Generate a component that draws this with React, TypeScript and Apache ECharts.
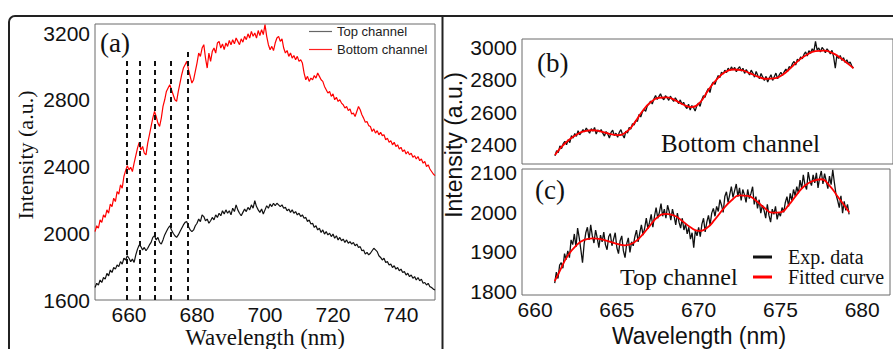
import React, { useEffect, useRef } from "react";
import * as echarts from "echarts";

const SANS = 'Arial, "Liberation Sans", sans-serif';
const SERIF = '"Times New Roman", "Liberation Serif", serif';

// Panel (a): full spectra, 650–750 nm, step 0.5 nm
const A_START = 650;
const A_STEP = 0.5;
const A_BOTTOM = [
  2010, 2045, 2030, 2080, 2065, 2110, 2095, 2140, 2120, 2175,
  2160, 2210, 2190, 2250, 2235, 2290, 2270, 2340, 2375, 2405,
  2380, 2395, 2370, 2420, 2465, 2510, 2545, 2500, 2520, 2480,
  2470, 2540, 2590, 2640, 2690, 2730, 2700, 2660, 2640, 2690,
  2760, 2800, 2850, 2870, 2890, 2860, 2830, 2800, 2790, 2850,
  2900, 2950, 2990, 3010, 3030, 2980, 2940, 2900, 2920, 2970,
  3020, 3080, 3060, 3110, 3130, 3050, 2990, 3080, 3030, 3090,
  3110, 3080, 3140, 3150, 3110, 3135, 3100, 3140, 3120, 3155,
  3130, 3160, 3135, 3170, 3150, 3130, 3165, 3145, 3180, 3160,
  3195, 3170, 3210, 3180, 3200, 3170, 3215, 3185, 3220, 3190,
  3250, 3180, 3130, 3100, 3120, 3095, 3140, 3170, 3180, 3150,
  3165, 3110, 3080, 3095, 3060, 3080, 3050, 3065, 3040, 3060,
  3030, 3040, 3020, 2960, 2920, 2940, 2910, 2930, 2920, 2945,
  2930, 2960, 2940, 2920, 2910, 2880, 2860, 2840, 2850, 2820,
  2835, 2800, 2815, 2790, 2800, 2780, 2770, 2750, 2760, 2735,
  2745, 2715, 2720, 2700, 2730, 2760, 2740, 2710, 2690, 2665,
  2670, 2645, 2640, 2610, 2625, 2600, 2615, 2590, 2605, 2585,
  2590, 2560, 2570, 2545, 2555, 2530, 2545, 2520, 2530, 2505,
  2515, 2490, 2500, 2475, 2490, 2470, 2480, 2455, 2465, 2445,
  2460, 2435, 2445, 2420, 2430, 2400, 2410, 2385, 2370, 2355,
  2345,
];
const A_TOP = [
  1675, 1700, 1690, 1720, 1705, 1735, 1725, 1760, 1745, 1780,
  1765, 1795, 1785, 1810, 1800, 1830, 1815, 1850, 1840, 1865,
  1850, 1830, 1845, 1825, 1870, 1905, 1930, 1920, 1900, 1915,
  1895, 1910, 1930, 1945, 1975, 1985, 1960, 1975, 1945, 1935,
  1960, 1990, 2010, 2030, 2045, 2020, 2000, 1985, 1975, 1990,
  2010, 2030, 2050, 2065, 2070, 2040, 2020, 2010, 2020, 2045,
  2060, 2085, 2070, 2110, 2100, 2075, 2085, 2060, 2075, 2095,
  2080, 2110, 2095, 2120, 2105, 2135, 2115, 2140, 2120, 2135,
  2110, 2150, 2130, 2170, 2140, 2120, 2105, 2125, 2145, 2130,
  2155, 2140, 2170, 2150, 2195, 2160, 2140, 2125, 2145, 2115,
  2140, 2165, 2150, 2175, 2160, 2180, 2165, 2180, 2170, 2160,
  2170, 2150, 2155, 2135, 2145, 2125, 2140, 2120, 2130, 2110,
  2120, 2100, 2110, 2090, 2095, 2070, 2080, 2055, 2060, 2035,
  2045, 2020, 2030, 2005, 2020, 1995, 2010, 1990, 2000, 1980,
  1995, 1970, 1985, 1960, 1975, 1955, 1965, 1945, 1960, 1940,
  1950, 1935, 1945, 1925, 1935, 1915, 1920, 1895, 1900, 1875,
  1885, 1870, 1880, 1895, 1910, 1900, 1890, 1865, 1855, 1840,
  1850, 1825, 1830, 1810, 1815, 1795, 1805, 1785, 1795, 1775,
  1785, 1765, 1770, 1750, 1760, 1740, 1750, 1730, 1740, 1720,
  1735, 1715, 1725, 1700, 1705, 1690, 1700, 1680, 1675, 1665,
  1660,
];
// dashed markers in panel (a): wavelength and top of the dashed line
const A_MARK_WL = [659.3, 663.1, 667.5, 672.2, 677.2];
const A_MARK_TOP = [3040, 3040, 3040, 3040, 3098];

// Panels (b) and (c): zoomed 661.2–679.x nm, step 0.1 nm
const Z_START = 661.2;
const Z_STEP = 0.1;
const B_EXP = [
  2330, 2362, 2350, 2392, 2375, 2405, 2420, 2398,
  2430, 2412, 2455, 2440, 2468, 2450, 2485, 2460, 2475, 2492,
  2478, 2502, 2485, 2470, 2498, 2482, 2505, 2465, 2490, 2478,
  2492, 2470, 2452, 2480, 2465, 2440, 2475, 2488, 2455, 2470,
  2445, 2475, 2492, 2460, 2440, 2482, 2470, 2505, 2495, 2528,
  2520, 2550, 2542, 2585, 2570, 2600, 2618, 2605, 2638, 2650,
  2668, 2650, 2680, 2702, 2678, 2695, 2712, 2688, 2676, 2700,
  2690, 2672, 2698, 2680, 2665, 2688, 2670, 2652, 2675, 2648,
  2660, 2635, 2622, 2648, 2612, 2640, 2628, 2606, 2638, 2655,
  2635, 2675, 2700, 2690, 2725, 2745, 2720, 2768, 2785, 2770,
  2800, 2825, 2812, 2845, 2835, 2858, 2842, 2870, 2855, 2878,
  2860, 2875, 2848, 2868, 2880, 2852, 2870, 2838, 2862, 2845,
  2828, 2858, 2840, 2815, 2850, 2825, 2805, 2838, 2815, 2795,
  2820, 2785, 2810, 2830, 2795, 2818, 2840, 2805, 2828, 2845,
  2825, 2848, 2865, 2850, 2880, 2872, 2898, 2912, 2890, 2925,
  2915, 2940, 2928, 2955, 2970, 2945, 2978, 2962, 2990, 2972,
  3035, 2982, 2995, 2970, 2998, 2985, 2965, 2990, 2975, 2958,
  2980, 2940, 2870, 2952, 2930, 2948, 2918, 2935, 2905, 2922,
  2898, 2908, 2885, 2870,
];
const C_EXP = [
  1820, 1848, 1832, 1866, 1872, 1858, 1895, 1880,
  1902, 1885, 1930, 1918, 1945, 1912, 1960, 1935, 1905, 1872,
  1920, 1948, 1962, 1930, 1968, 1940, 1922, 1955, 1935, 1910,
  1942, 1925, 1950, 1918, 1905, 1938, 1946, 1915, 1932, 1948,
  1910, 1895, 1928, 1940, 1902, 1885, 1920, 1935, 1898, 1925,
  1915, 1938, 1955, 1925, 1948, 1968, 1942, 1960, 1985, 1958,
  1975, 1995, 1962, 1990, 2012, 1985, 2000, 2022, 1990, 2008,
  1985, 2018, 2002, 1980, 2008, 1990, 1968, 1998, 1975, 1960,
  1985, 1955, 1970, 1945, 1962, 1932, 1948, 1910, 1955, 1940,
  1962, 1938, 1970, 1985, 1950, 1975, 1992, 1968, 1998, 2010,
  1990, 2015, 2002, 2032, 2018, 2000, 2040, 2052, 2025, 2045,
  2065, 2038, 2055, 2072, 2040, 2062, 2030, 2058, 2045, 2025,
  2058, 2035, 2048, 2065, 2020, 2040, 2010, 2032, 1998, 2018,
  2005, 1985, 2020, 1992, 1975, 2008, 1995, 2015, 1982, 2000,
  1990, 2012, 2000, 2025, 2040, 2015, 2048, 2030, 2058, 2042,
  2065, 2048, 2082, 2060, 2095, 2070, 2058, 2102, 2080, 2068,
  2095, 2075, 2100, 2062, 2088, 2105, 2072, 2098, 2080, 2060,
  2092, 2070, 2108, 2075, 2045, 2030, 2012, 2042, 1998, 2028,
  2005, 2020, 1995,
];
// fitted curves, read at 0.5 nm
const B_FIT_WL = [
  661.2, 661.5, 662, 662.5, 663, 663.5, 664, 664.5, 665, 665.5, 666, 666.5,
  667, 667.5, 668, 668.5, 669, 669.5, 670, 670.5, 671, 671.5, 672, 672.5,
  673, 673.5, 674, 674.5, 675, 675.5, 676, 676.5, 677, 677.5, 678, 678.5,
  679, 679.3,
];
const B_FIT = [
  2335, 2375, 2425, 2460, 2482, 2488, 2480, 2466, 2458, 2475, 2530, 2605,
  2660, 2688, 2690, 2672, 2645, 2630, 2660, 2735, 2800, 2845, 2862, 2858,
  2840, 2818, 2805, 2808, 2830, 2872, 2920, 2955, 2975, 2978, 2965, 2935,
  2895, 2870,
];
const C_FIT_WL = [
  661.2, 661.5, 662, 662.5, 663, 663.5, 664, 664.5, 665, 665.5, 666, 666.5,
  667, 667.5, 668, 668.5, 669, 669.5, 670, 670.5, 671, 671.5, 672, 672.5,
  673, 673.5, 674, 674.5, 675, 675.5, 676, 676.5, 677, 677.5, 678, 678.5,
  679, 679.2,
];
const C_FIT = [
  1825, 1850, 1890, 1915, 1930, 1934, 1932, 1926, 1920, 1916, 1922, 1940,
  1965, 1988, 1996, 1992, 1978, 1962, 1953, 1960, 1982, 2008, 2030, 2043,
  2042, 2030, 2012, 1999, 2000, 2018, 2045, 2068, 2080, 2084, 2068, 2040,
  2012, 2000,
];

const A_X_TICKS = [660, 680, 700, 720, 740];
const A_Y_TICKS = [1600, 2000, 2400, 2800, 3200];
const Z_X_TICKS = [660, 665, 670, 675, 680];
const B_Y_TICKS = [2400, 2600, 2800, 3000];
const C_Y_TICKS = [1800, 1900, 2000, 2100];

const grid = (start: number, step: number, vals: number[]) =>
  vals.map((v, i) => [+(start + i * step).toFixed(2), v]);
const pair = (xs: number[], ys: number[]) => xs.map((x, i) => [x, ys[i]]);
const onlyTicks = (ticks: number[]) => (v: number) =>
  ticks.some((t) => Math.abs(t - v) < 1e-6) ? String(Math.round(v)) : "";

export default function App() {
  const ref = useRef<HTMLDivElement>(null);
  useEffect(() => {
    if (!ref.current) return;
    const chart = echarts.init(ref.current, null, { renderer: "svg" });
    const tickLabel = { fontFamily: SANS, fontSize: 21, color: "#111" };
    const boxGrid = { show: true, borderColor: "#6a6a6a", borderWidth: 1, backgroundColor: "transparent", containLabel: false };
    const hidden = { axisLine: { show: false }, axisTick: { show: false }, splitLine: { show: false } };
    const option: any = {
      animation: false,
      backgroundColor: "#ffffff",
      grid: [
        { ...boxGrid, left: 95, top: 24, width: 340, height: 276 },
        { ...boxGrid, left: 522, top: 39, width: 380, height: 125 },
        { ...boxGrid, left: 522, top: 169, width: 380, height: 126 },
      ],
      xAxis: [
        {
          type: "value", gridIndex: 0, min: 650, max: 750, interval: 10, ...hidden,
          axisLabel: { ...tickLabel, margin: 4, formatter: onlyTicks(A_X_TICKS) },
        },
        {
          type: "value", gridIndex: 1, min: 659.2, max: 681.7, interval: 0.2, ...hidden,
          axisLabel: { show: false },
        },
        {
          type: "value", gridIndex: 2, min: 659.2, max: 681.7, interval: 0.2, ...hidden,
          axisLabel: { ...tickLabel, margin: 4, formatter: onlyTicks(Z_X_TICKS) },
        },
      ],
      yAxis: [
        {
          type: "value", gridIndex: 0, min: 1600, max: 3254, interval: 400, ...hidden,
          axisLabel: { ...tickLabel, margin: 5, formatter: onlyTicks(A_Y_TICKS) },
        },
        {
          type: "value", gridIndex: 1, min: 2280, max: 3050, interval: 10, ...hidden,
          axisLabel: { ...tickLabel, margin: 5, formatter: onlyTicks(B_Y_TICKS) },
        },
        {
          type: "value", gridIndex: 2, min: 1790, max: 2110, interval: 10, ...hidden,
          axisLabel: { ...tickLabel, margin: 5, formatter: onlyTicks(C_Y_TICKS) },
        },
      ],
      legend: [
        {
          data: [
            { name: "Top channel", itemStyle: { color: "#666" } },
            { name: "Bottom channel", itemStyle: { color: "#ff2020" } },
          ],
          orient: "vertical", icon: "rect",
          left: 309, top: 25, itemWidth: 23, itemHeight: 1.2, itemGap: 5, padding: 0,
          textStyle: { fontFamily: SANS, fontSize: 13, color: "#222" },
        },
        {
          data: ["Exp. data", "Fitted curve"], orient: "vertical", icon: "rect",
          left: 753, top: 247, itemWidth: 19, itemHeight: 3, itemGap: 0, padding: 0,
          textStyle: { fontFamily: SERIF, fontSize: 20, color: "#111", padding: [0, 0, 0, 11] },
        },
      ],
      series: [
        {
          name: "Top channel", type: "line", xAxisIndex: 0, yAxisIndex: 0,
          data: grid(A_START, A_STEP, A_TOP), showSymbol: false, symbol: "none",
          lineStyle: { color: "#111", width: 1.2 }, itemStyle: { color: "#111" },
        },
        {
          name: "Bottom channel", type: "line", xAxisIndex: 0, yAxisIndex: 0,
          data: grid(A_START, A_STEP, A_BOTTOM), showSymbol: false, symbol: "none",
          lineStyle: { color: "#ff0000", width: 1.2 }, itemStyle: { color: "#ff0000" },
          markLine: {
            silent: true, symbol: "none", label: { show: false },
            lineStyle: { color: "#111", width: 2, type: [5, 4] },
            data: A_MARK_WL.map((w, i) => [
              { coord: [w, 1600] },
              { coord: [w, A_MARK_TOP[i]] },
            ]),
          },
        },
        {
          name: "Exp. data", type: "line", xAxisIndex: 1, yAxisIndex: 1,
          data: grid(Z_START, Z_STEP, B_EXP), showSymbol: false, symbol: "none",
          lineStyle: { color: "#111", width: 1.3 }, itemStyle: { color: "#111" },
        },
        {
          name: "Fitted curve", type: "line", xAxisIndex: 1, yAxisIndex: 1, smooth: true,
          data: pair(B_FIT_WL, B_FIT), showSymbol: false, symbol: "none",
          lineStyle: { color: "#ff0000", width: 1.8 }, itemStyle: { color: "#ff0000" },
        },
        {
          name: "Exp. data", type: "line", xAxisIndex: 2, yAxisIndex: 2,
          data: grid(Z_START, Z_STEP, C_EXP), showSymbol: false, symbol: "none",
          lineStyle: { color: "#111", width: 1.3 }, itemStyle: { color: "#111" },
        },
        {
          name: "Fitted curve", type: "line", xAxisIndex: 2, yAxisIndex: 2, smooth: true,
          data: pair(C_FIT_WL, C_FIT), showSymbol: false, symbol: "none",
          lineStyle: { color: "#ff0000", width: 1.8 }, itemStyle: { color: "#ff0000" },
        },
      ],
      graphic: [
        {
          type: "rect", silent: true, z: 100,
          shape: { x: 9, y: 16, width: 950, height: 400, r: 6 },
          style: { fill: "none", stroke: "#222", lineWidth: 2 },
        },
        {
          type: "line", silent: true, z: 100,
          shape: { x1: 442.5, y1: 16, x2: 442.5, y2: 349 },
          style: { stroke: "#222", lineWidth: 2 },
        },
        { type: "text", x: 100, y: 43, style: { text: "(a)", font: `27px ${SERIF}`, fill: "#111", verticalAlign: "middle" } },
        { type: "text", x: 537, y: 63, style: { text: "(b)", font: `27px ${SERIF}`, fill: "#111", verticalAlign: "middle" } },
        { type: "text", x: 535, y: 190, style: { text: "(c)", font: `27px ${SERIF}`, fill: "#111", verticalAlign: "middle" } },
        { type: "text", x: 661, y: 143, style: { text: "Bottom channel", font: `25px ${SERIF}`, fill: "#111", verticalAlign: "middle" } },
        { type: "text", x: 620, y: 277, style: { text: "Top channel", font: `24px ${SERIF}`, fill: "#111", verticalAlign: "middle" } },
        {
          type: "text", x: 25, y: 155, rotation: Math.PI / 2,
          style: { text: "Intensity (a.u.)", font: `22px ${SERIF}`, fill: "#111", align: "center", verticalAlign: "middle" },
        },
        {
          type: "text", x: 454, y: 145, rotation: Math.PI / 2,
          style: { text: "Intensity (a.u.)", font: `23px ${SANS}`, fill: "#111", align: "center", verticalAlign: "middle" },
        },
        { type: "text", x: 265, y: 337, style: { text: "Wavelength (nm)", font: `23px ${SERIF}`, fill: "#111", align: "center", verticalAlign: "middle" } },
        { type: "text", x: 699, y: 336, style: { text: "Wavelength (nm)", font: `23px ${SANS}`, fill: "#111", align: "center", verticalAlign: "middle" } },
      ],
    };
    chart.setOption(option);
    return () => chart.dispose();
  }, []);
  return (
    <div
      ref={ref}
      style={{ position: "absolute", left: 0, top: 0, width: 893, height: 349, background: "#fff" }}
    />
  );
}
